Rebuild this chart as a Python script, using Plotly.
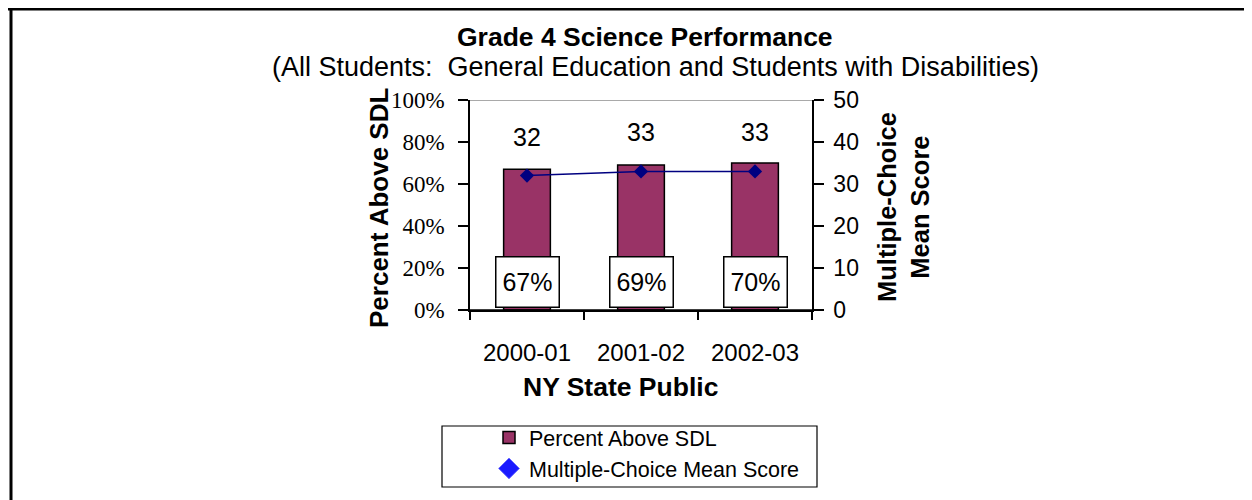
import plotly.graph_objects as go

years = ["2000-01", "2001-02", "2002-03"]
pct_above_sdl = [0.67, 0.69, 0.70]
mc_mean_score = [32, 33, 33]
left_ticks = [0, 0.2, 0.4, 0.6, 0.8, 1.0]
right_ticks = [0, 10, 20, 30, 40, 50]

OFF = 8                      # default page body margin
W, H = 1252, 500
PX0, PY0 = 470, 100          # plot-area left/top on screen
PW, PH = 342, 210
L, T = PX0 - OFF, PY0 - OFF
R = W - L - PW
B = H - T - PH

def px(x):
    return (x - PX0) / PW

def py(y):
    return (PY0 + PH - y) / PH

SANS = "Liberation Sans, Arial, sans-serif"
SERIF = "Liberation Serif, Times New Roman, serif"

fig = go.Figure()
fig.add_trace(go.Bar(
    x=years, y=pct_above_sdl, name="Percent Above SDL", width=0.41,
    marker=dict(color="#993366", line=dict(color="black", width=1.5)),
    yaxis="y", xaxis="x",
))
fig.add_trace(go.Scatter(
    x=years, y=mc_mean_score, name="Multiple-Choice Mean Score",
    mode="lines+markers", yaxis="y2", xaxis="x", showlegend=False,
    line=dict(color="#000080", width=1.5),
    marker=dict(symbol="diamond", size=11, color="#000080"),
))
fig.add_trace(go.Scatter(
    x=[None], y=[None], name="Multiple-Choice Mean Score", mode="markers",
    yaxis="y2", xaxis="x",
    marker=dict(symbol="diamond", size=16, color="#1a1aff", line=dict(color="#6f6fff", width=1)),
))

ann = []
for yr, v in zip(years, mc_mean_score):
    ann.append(dict(x=yr, y=v, xref="x", yref="y2", text=str(v), showarrow=False,
                    xanchor="center", yanchor="middle", yshift=39,
                    font=dict(family=SANS, size=25, color="black")))
for yr, v in zip(years, pct_above_sdl):
    ann.append(dict(x=yr, y=0, xref="x", yref="y", text=f"{v:.0%}", showarrow=False,
                    xanchor="center", yanchor="bottom", yshift=2, width=62, height=49, borderpad=0,
                    bgcolor="white", bordercolor="black", borderwidth=1.5,
                    font=dict(family=SANS, size=25, color="black")))

def txt(x, y, text, size, angle=0):
    return dict(x=px(x), y=py(y), xref="paper", yref="paper", showarrow=False,
                xanchor="center", yanchor="middle", textangle=angle, text=text,
                font=dict(family=SANS, size=size, color="black"))

ann += [
    txt(645, 37, "<b>Grade 4 Science Performance</b>", 26.5),
    txt(655, 67, "(All Students:  General Education and Students with Disabilities)", 27),
    txt(379, 208, "<b>Percent Above SDL</b>", 26, -90),
    txt(903, 207, "<b>Multiple-Choice<br>Mean Score</b>", 25.5, -90),
    txt(620, 387, "<b>NY State Public</b>", 26.5),
]

shapes = [
    dict(type="line", xref="paper", yref="y", x0=0, x1=1, y0=1, y1=1,
         line=dict(color="#8c8c8c", width=1.5), layer="below"),
    dict(type="line", xref="paper", yref="y", x0=px(462), x1=px(820), y0=0, y1=0,
         line=dict(color="black", width=1.5)),
    dict(type="line", xref="paper", yref="paper", x0=px(0), x1=px(1270), y0=py(9), y1=py(9),
         line=dict(color="black", width=3)),
    dict(type="line", xref="paper", yref="paper", x0=px(11), x1=px(11), y0=py(9), y1=py(520),
         line=dict(color="black", width=3)),
    dict(type="rect", xref="paper", yref="paper", x0=px(442), x1=px(817), y0=py(487), y1=py(426),
         line=dict(color="black", width=1.2)),
]

fig.update_layout(
    width=W, height=H, autosize=False,
    margin=dict(l=L, r=R, t=T, b=B),
    paper_bgcolor="white", plot_bgcolor="white",
    showlegend=True,
    legend=dict(x=px(489), y=py(489), xanchor="left", yanchor="bottom",
                font=dict(family=SANS, size=21.5, color="black"),
                bgcolor="rgba(0,0,0,0)", borderwidth=0, tracegroupgap=0),
    xaxis=dict(type="category", categoryarray=years, range=[-0.5, 2.5],
               tickson="boundaries", ticks="outside", ticklen=8, tickwidth=1.5, tickcolor="black",
               showline=True, linecolor="black", linewidth=1.5, showgrid=False,
               ticklabelstandoff=20, automargin=False,
               tickfont=dict(family=SANS, size=24, color="black")),
    xaxis2=dict(overlaying="x", anchor="y", range=[-0.5, 2.5], tickvals=[-0.5, 0.5, 1.5, 2.5],
                ticks="inside", ticklen=8, tickwidth=1.5, tickcolor="black",
                showticklabels=False, showgrid=False, showline=False, zeroline=False, side="bottom"),
    yaxis=dict(range=[0, 1], tickvals=left_ticks, tickformat=".0%",
               ticks="outside", ticklen=10, tickwidth=1.5, tickcolor="black",
               showline=True, linecolor="black", linewidth=1.5, showgrid=False, zeroline=False,
               ticklabelstandoff=9, automargin=False,
               tickfont=dict(family=SERIF, size=23, color="black")),
    yaxis2=dict(overlaying="y", side="right", anchor="x", range=[0, 50], tickvals=right_ticks,
                ticks="outside", ticklen=10, tickwidth=1.5, tickcolor="black",
                showline=True, linecolor="black", linewidth=1.5, showgrid=False, zeroline=False,
                ticklabelstandoff=5, automargin=False,
                tickfont=dict(family=SANS, size=23, color="black")),
    yaxis3=dict(overlaying="y", side="left", anchor="x", range=[0, 1], tickvals=left_ticks,
                ticks="inside", ticklen=8, tickwidth=1.5, tickcolor="black",
                showticklabels=False, showgrid=False, zeroline=False, showline=False),
    yaxis4=dict(overlaying="y", side="right", anchor="x", range=[0, 50], tickvals=right_ticks,
                ticks="inside", ticklen=10, tickwidth=1.5, tickcolor="black",
                showticklabels=False, showgrid=False, zeroline=False, showline=False),
    annotations=ann, shapes=shapes,
)

fig.write_html("out.html")
